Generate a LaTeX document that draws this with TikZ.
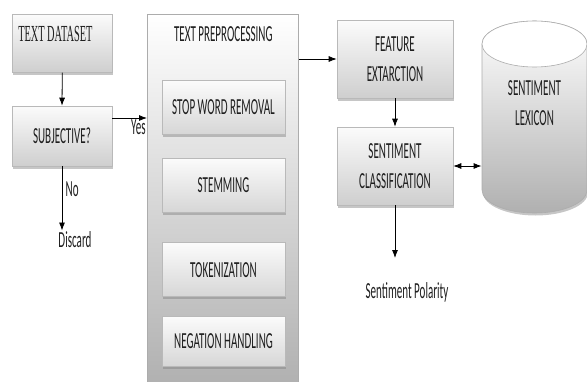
\documentclass[tikz,border=0pt]{standalone}
\usepackage{fontspec}
\setmainfont{Carlito}[FakeStretch=0.48]
\newfontfamily\datafont{Liberation Serif}[FakeStretch=0.45]
\usepackage{tikz}
\usetikzlibrary{arrows.meta}
\usetikzlibrary{positioning}
\usetikzlibrary{shadows}

\begin{document}
\begin{tikzpicture}[x=1pt,y=-1pt,
  font=\fontsize{23}{30}\selectfont, text=black!88, line width=0.8pt,
  >={Latex[length=8pt,width=6pt]},
  boxshadow/.style={drop shadow={shadow xshift=1pt,shadow yshift=-2.5pt,opacity=0.45}},
  procbox/.style={draw=gray!55, line width=0.6pt, top color=gray!3, bottom color=gray!38, boxshadow,
    align=center, minimum width=116pt, minimum height=78pt},
  stepbox/.style={draw=gray!55, line width=0.6pt, top color=gray!3, bottom color=gray!32, boxshadow,
    minimum width=123pt, minimum height=54pt}]
\useasboundingbox (0,0) rectangle (587,381);

% left column
\node (dataset) [procbox, anchor=north west, minimum width=100pt, minimum height=0pt,
  inner ysep=0pt, text width=88pt, align=left, text height=27pt, text depth=31pt]
  at (12,14) {\datafont TEXT\hspace{2.5pt}DATASET};
\node (subj) [procbox, minimum width=100pt, minimum height=60pt] at (62,136) {SUBJECTIVE?};
\node (discard) [inner sep=1pt] at (75,240) {Discard};

% preprocessing block
\node (prep) [draw=gray!65, line width=0.6pt, top color=white, bottom color=gray!62, anchor=north west,
  minimum width=151pt, minimum height=372pt] at (147,14) {};
\node (preptitle) [below=9pt of prep.north, xshift=0.5pt] {TEXT PREPROCESSING};
\node (stop) [stepbox] at (223.5,107.5) {STOP WORD REMOVAL};
\node (stem) [stepbox, below=23pt of stop] {STEMMING};
\node (token) [stepbox, below=30pt of stem] {TOKENIZATION};
\node (neg) [stepbox, below=19pt of token, minimum height=50pt] {NEGATION HANDLING};

% right part
\node (feature) [procbox] at (395,59) {FEATURE\\EXTARCTION};
\node (class) [procbox] at (395,166) {SENTIMENT\\CLASSIFICATION};
\node (polarity) at (407,292) {Sentiment Polarity};
\coordinate (polend) at (390,258);

% sentiment lexicon drum
\shade[top color=white, bottom color=gray!62, draw=gray!65, line width=0.6pt, boxshadow]
  (482,44) -- (482,190) arc[start angle=180, end angle=360, x radius=52.5pt, y radius=23pt]
  -- (587,44) arc[start angle=0, end angle=180, x radius=52.5pt, y radius=23pt] -- cycle;
\filldraw[fill=white, draw=gray!65, line width=0.6pt] (534.5,44) ellipse [x radius=52.5pt, y radius=23pt];
\node (lexicon) [minimum width=105pt, align=center] at (534.5,103) {SENTIMENT\\LEXICON};

% connectors
\draw[->] (dataset.south) -- (subj.north);
\draw[->] (subj.south) -- (subj.south |- discard.north) node [pos=0.35, right] {No};
\draw[->] ([yshift=18pt]subj.east) -- ([yshift=18pt]subj.east -| prep.west)
  node [below left, inner sep=1pt] {Yes};
\draw[->] (prep.east |- feature.west) -- (feature.west);
\draw[->] (feature.south) -- (class.north);
\draw[<->] (class.east) -- (class.east -| lexicon.west);
\draw[->] (class.south) -- (class.south |- polend);
\end{tikzpicture}
\end{document}
